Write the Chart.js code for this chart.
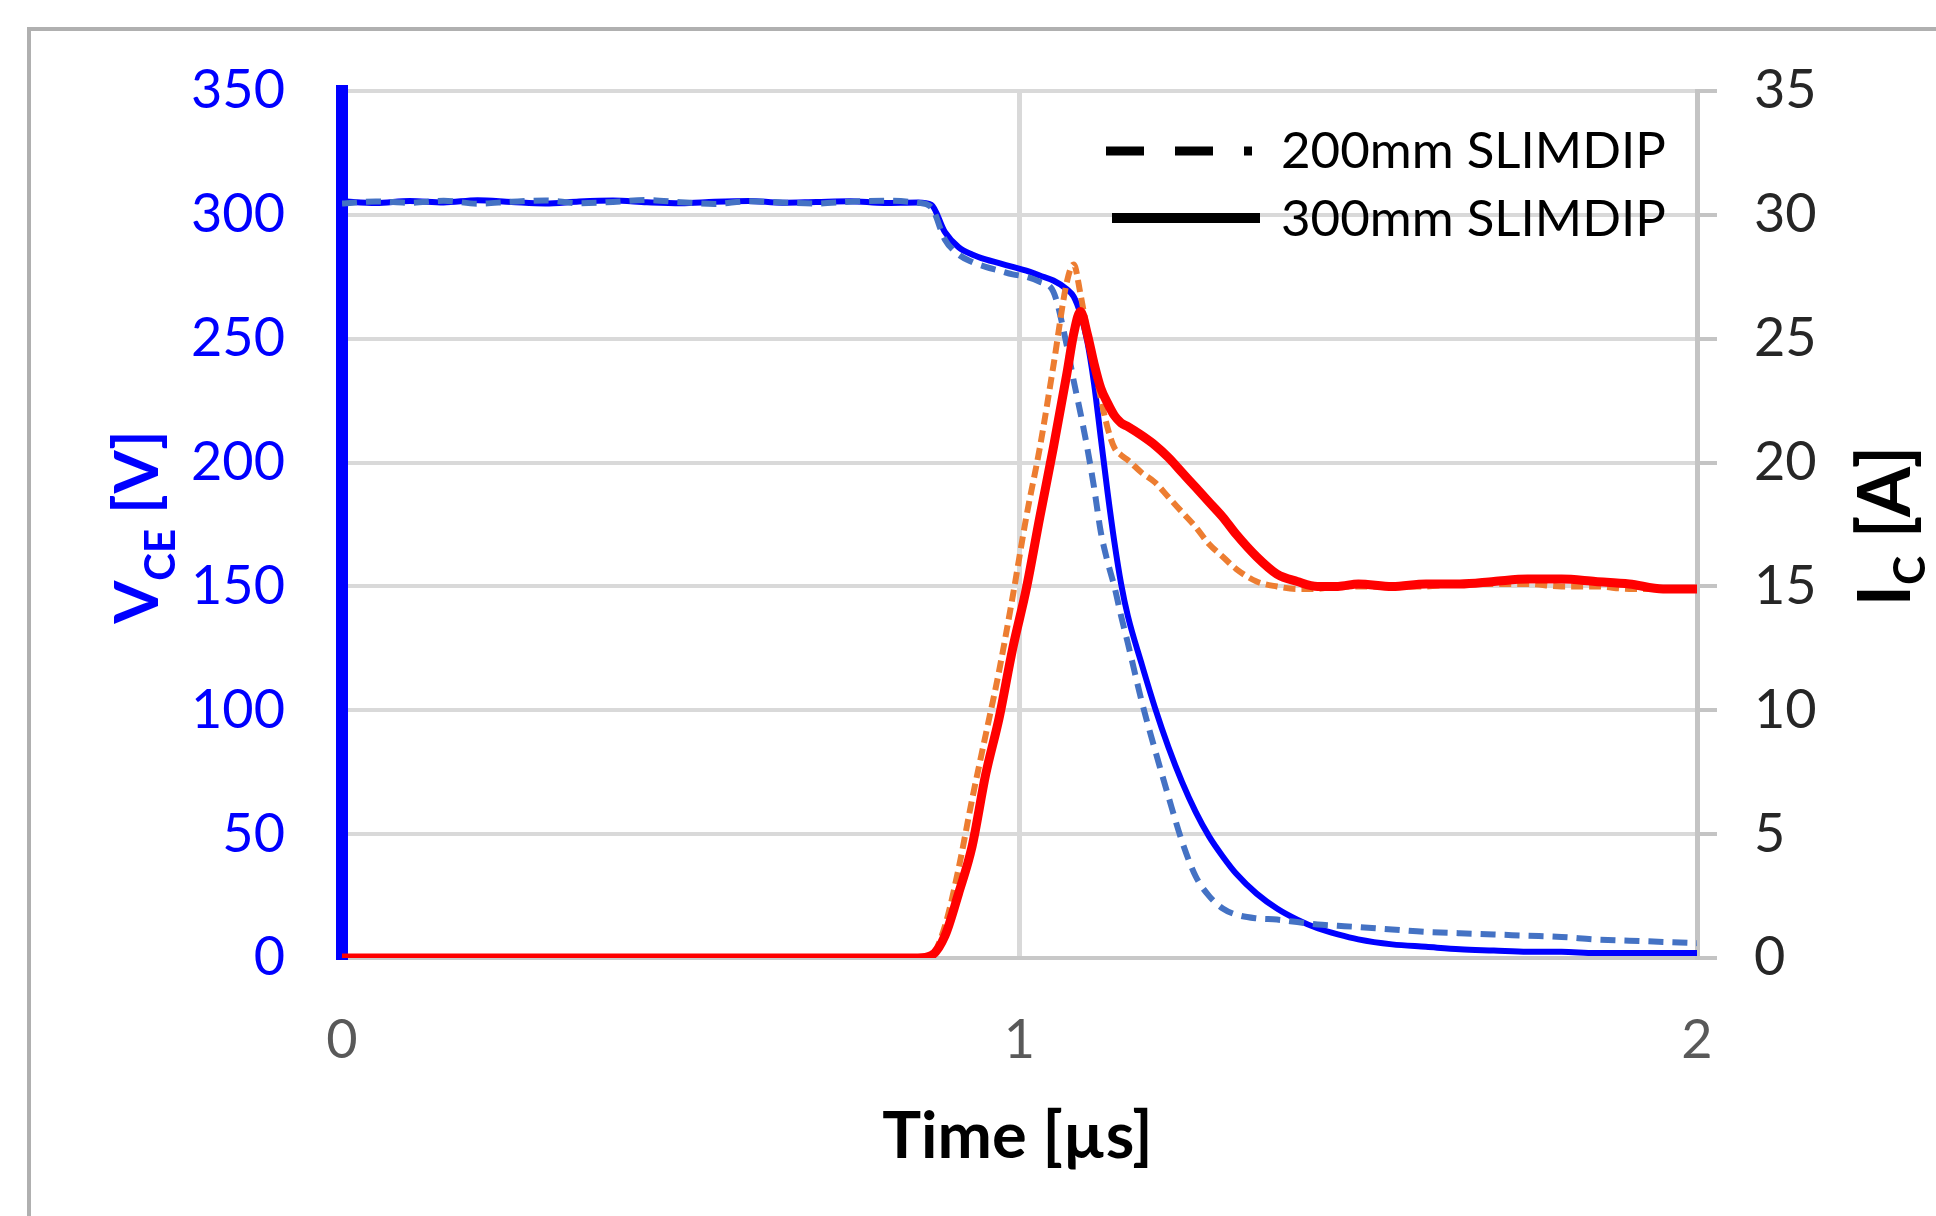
<!DOCTYPE html>
<html>
<head>
<meta charset="utf-8">
<title>Turn-on waveforms</title>
<script src="https://cdn.jsdelivr.net/npm/chart.js@4.4.1/dist/chart.umd.min.js"></script>
<style>
  html, body { margin: 0; padding: 0; background: #fff; }
  #wrap { width: 1936px; height: 1216px; position: relative; }
</style>
</head>
<body>
<div id="wrap"><canvas id="waveChart"></canvas></div>
<script>
// time axis in microseconds, shared by all four traces
const time = [
  0, 0.05, 0.1, 0.15, 0.2, 0.25, 0.3, 0.35, 0.4, 0.45, 0.5, 0.55, 0.6, 0.65, 0.7, 0.75, 0.8, 0.85,
  0.87, 0.89, 0.91, 0.93, 0.95, 0.97, 0.99, 1.01, 1.03, 1.05, 1.07,
  1.08, 1.09, 1.10, 1.11, 1.12, 1.13, 1.14, 1.15, 1.16,
  1.18, 1.20, 1.22, 1.24, 1.26, 1.28, 1.30, 1.32,
  1.35, 1.38, 1.41, 1.44, 1.47, 1.50,
  1.55, 1.60, 1.65, 1.70, 1.75, 1.80, 1.85, 1.90, 1.95, 2.0
];

// collector-emitter voltage [V]
const vce300 = [
  305.5, 304.8, 305.6, 305.0, 305.9, 305.2, 304.6, 305.4, 305.8, 305.1, 304.7, 305.3, 305.6, 304.9, 305.2, 305.5, 304.8, 305.0,
  304, 293, 287, 284, 282, 280.5, 279, 277.5, 275.5, 273.5, 270,
  267, 260, 249, 232, 210, 188, 168, 151, 138,
  119, 101, 85, 71, 59, 49, 41, 34,
  26, 20, 15.5, 12, 9.5, 7.5,
  5.5, 4.5, 3.5, 3, 2.5, 2.5, 2, 2, 2, 2
];
const vce200 = [
  304.6, 305.4, 304.9, 305.7, 304.5, 305.3, 305.8, 304.7, 305.2, 306.0, 305.1, 304.4, 305.5, 305.0, 304.6, 305.3, 305.7, 304.9,
  303, 290, 284, 281, 279, 277.5, 276, 275, 273, 269, 247,
  233, 220, 206, 190, 172, 160, 150, 138, 127,
  104, 84, 65, 47, 33, 25, 20, 17.5,
  16, 15.5, 14.5, 13.5, 13, 12.5,
  11.5, 10.5, 10, 9.5, 9, 8.5, 7.5, 7, 6.5, 6
];

// collector current [A]
const ic300 = [
  0, 0, 0, 0, 0, 0, 0, 0, 0, 0, 0, 0, 0, 0, 0, 0, 0, 0,
  0.1, 0.9, 2.6, 4.5, 7.4, 9.7, 12.5, 14.9, 17.8, 20.6, 23.6,
  25.2, 26.1, 25.2, 24.0, 23.0, 22.4, 21.9, 21.6, 21.45,
  21.1, 20.7, 20.2, 19.6, 19.0, 18.4, 17.8, 17.1,
  16.2, 15.5, 15.2, 15.0, 15.0, 15.1,
  15.0, 15.1, 15.1, 15.2, 15.3, 15.3, 15.2, 15.1, 14.9, 14.9
];
const ic200 = [
  0, 0, 0, 0, 0, 0, 0, 0, 0, 0, 0, 0, 0, 0, 0, 0, 0, 0,
  0.1, 1.3, 3.6, 6.4, 9.0, 11.6, 14.6, 17.8, 20.6, 23.9, 27.3,
  28.0, 26.8, 25.3, 24.0, 22.6, 21.4, 20.6, 20.3, 20.1,
  19.6, 19.2, 18.6, 18.0, 17.4, 16.7, 16.2, 15.7,
  15.2, 15.0, 14.9, 14.9, 15.0, 15.0,
  15.0, 15.0, 15.1, 15.1, 15.1, 15.0, 15.0, 14.9, 14.9, 14.9
];

const timeTicks = [0, 1, 2];
const voltTicks = [0, 50, 100, 150, 200, 250, 300, 350];
const ampTicks = [0, 5, 10, 15, 20, 25, 30, 35];

const FONT = "Lato, 'Open Sans', sans-serif";

function pts(values) {
  return time.map((t, i) => ({ x: t, y: values[i] }));
}

// rotated title with a subscript, e.g. V_CE [V]
function drawAxisTitle(ctx, x, y, main, sub, rest, size, subSize, drop, color) {
  ctx.save();
  ctx.translate(x, y);
  ctx.rotate(-Math.PI / 2);
  ctx.fillStyle = color;
  ctx.textBaseline = "alphabetic";
  ctx.textAlign = "left";
  const big = "bold " + size + "px " + FONT;
  const small = "bold " + subSize + "px " + FONT;
  ctx.font = big;
  const w1 = ctx.measureText(main).width;
  const w3 = ctx.measureText(rest).width;
  ctx.font = small;
  const w2 = ctx.measureText(sub).width;
  let pos = -(w1 + w2 + w3) / 2;
  ctx.font = big;
  ctx.fillText(main, pos, 0);
  pos += w1;
  ctx.font = small;
  ctx.fillText(sub, pos, drop);
  pos += w2;
  ctx.font = big;
  ctx.fillText(rest, pos, 0);
  ctx.restore();
}

const decorations = {
  id: "decorations",
  beforeDraw(chart) {
    const ctx = chart.ctx;
    ctx.save();
    ctx.strokeStyle = "#B0B0B0";
    ctx.lineWidth = 4;
    ctx.strokeRect(29, 29, 2400, 2400);
    ctx.restore();
  },
  afterDraw(chart) {
    const ctx = chart.ctx;
    const area = chart.chartArea;

    drawAxisTitle(ctx, 158, 527, "V", "CE", " [V]", 62, 42, 17, "#0000FF");
    drawAxisTitle(ctx, 1910, 526, "I", "C", " [A]", 72, 44, 15, "#000000");

    ctx.save();
    ctx.fillStyle = "#000";
    ctx.font = "bold 65px " + FONT;
    ctx.textAlign = "center";
    ctx.textBaseline = "alphabetic";
    ctx.fillText("Time [\u00b5s]", (area.left + area.right) / 2 - 2, 1158);

    // legend: line style only, black
    ctx.strokeStyle = "#000";
    ctx.lineCap = "butt";
    ctx.lineWidth = 9;
    ctx.setLineDash([38, 31]);
    ctx.beginPath();
    ctx.moveTo(1106, 151);
    ctx.lineTo(1252, 151);
    ctx.stroke();
    ctx.setLineDash([]);
    ctx.lineWidth = 10;
    ctx.beginPath();
    ctx.moveTo(1112, 218);
    ctx.lineTo(1260, 218);
    ctx.stroke();

    ctx.font = "51px " + FONT;
    ctx.textAlign = "left";
    ctx.fillText("200mm SLIMDIP", 1281, 168);
    ctx.fillText("300mm SLIMDIP", 1281, 236);
    ctx.restore();
  }
};

new Chart(document.getElementById("waveChart").getContext("2d"), {
  type: "line",
  data: {
    datasets: [
      {
        label: "IC 300mm",
        data: pts(ic300),
        yAxisID: "y1",
        borderColor: "#FF0000",
        borderWidth: 9,
        order: 0
      },
      {
        label: "IC 200mm",
        data: pts(ic200),
        yAxisID: "y1",
        borderColor: "#ED7D31",
        borderWidth: 6,
        borderDash: [12, 6],
        order: 1
      },
      {
        label: "VCE 200mm",
        data: pts(vce200),
        yAxisID: "y",
        borderColor: "#4472C4",
        borderWidth: 6,
        borderDash: [15, 9],
        order: 2
      },
      {
        label: "VCE 300mm",
        data: pts(vce300),
        yAxisID: "y",
        borderColor: "#0000FF",
        borderWidth: 6,
        order: 3
      }
    ]
  },
  options: {
    responsive: true,
    maintainAspectRatio: false,
    animation: false,
    elements: {
      point: { radius: 0 },
      line: { cubicInterpolationMode: "monotone", borderCapStyle: "butt", borderJoinStyle: "round" }
    },
    layout: { padding: { top: 91, left: 0, right: 0, bottom: 0 } },
    plugins: {
      legend: { display: false },
      tooltip: { enabled: false }
    },
    scales: {
      x: {
        type: "linear",
        min: 0,
        max: 2,
        afterBuildTicks: (axis) => { axis.ticks = timeTicks.map(v => ({ value: v })); },
        afterFit: (scale) => { scale.height = 1216 - 958; },
        ticks: { color: "#595959", font: { family: FONT, size: 54 }, padding: 50 },
        grid: { color: "#D9D9D9", lineWidth: 5, drawTicks: false },
        border: { color: "#C8C8C8", width: 4 }
      },
      y: {
        position: "left",
        min: 0,
        max: 350,
        afterBuildTicks: (axis) => { axis.ticks = voltTicks.map(v => ({ value: v })); },
        afterFit: (scale) => { scale.width = 342; },
        ticks: { color: "#0000FF", font: { family: FONT, size: 54 }, padding: 57 },
        grid: { color: "#D9D9D9", lineWidth: 4, drawTicks: false },
        border: { color: "#0000FF", width: 12 }
      },
      y1: {
        position: "right",
        min: 0,
        max: 35,
        afterBuildTicks: (axis) => { axis.ticks = ampTicks.map(v => ({ value: v })); },
        afterFit: (scale) => { scale.width = 1936 - 1697; },
        ticks: { color: "#262626", font: { family: FONT, size: 54 }, padding: 37 },
        grid: { drawOnChartArea: false, drawTicks: true, tickLength: 20, color: "#C4C4C4", lineWidth: 4 },
        border: { color: "#C4C4C4", width: 5 }
      }
    }
  },
  plugins: [decorations]
});
</script>
</body>
</html>
